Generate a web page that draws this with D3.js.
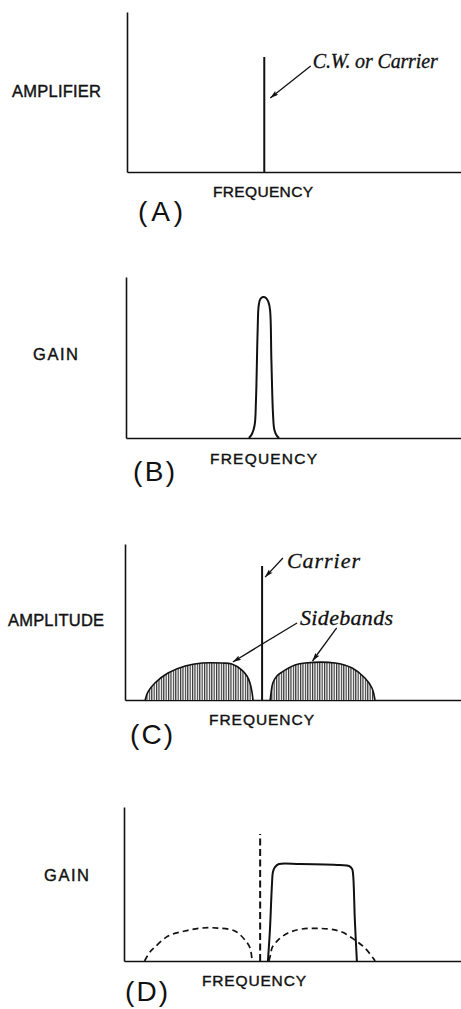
<!DOCTYPE html>
<html><head><meta charset="utf-8">
<script src="https://cdn.jsdelivr.net/npm/d3@7"></script>
<style>html,body{margin:0;padding:0;background:#fff;}svg{display:block;}</style>
</head><body>
<script>
// ---------------- data ----------------
const panelLetters = ["(A)", "(B)", "(C)", "(D)"];
const yAxisTitles = ["AMPLIFIER", "GAIN", "AMPLITUDE", "GAIN"];
const xAxisTitle = "FREQUENCY";
const freqDomain = [0, 100];
const levelDomain = [0, 100];

// (A) single continuous-wave carrier
const carrierA = [{f: 41.1, a: 71.9}];
// (B) narrow amplifier gain curve [frequency, gain]
const responseB = [[36.7,0],[37.6,2.5],[38.4,8.1],[38.8,23.6],[39.3,67.1],[39.6,82.0],[40.1,86.3],[40.9,87.6],[41.8,87.0],[42.5,84.5],[43.0,79.5],[43.4,48.4],[43.9,14.3],[44.3,5.0],[45.1,1.2],[45.7,0]];
// (C) carrier and sidebands
const carrierC = [{f: 40.8, a: 85.9}];
const lowerSidebandC = [[6.0,0],[6.8,5.1],[8.9,10.9],[12.8,17.3],[17.9,21.8],[22.9,23.7],[28.9,23.7],[31.8,23.1],[34.8,19.2],[36.3,15.4],[37.2,10.9],[37.8,5.1],[38.1,0]];
const upperSidebandC = [[43.2,0],[43.5,5.1],[44.0,10.9],[45.2,15.4],[46.7,17.9],[50.6,22.4],[53.6,23.7],[62.5,23.7],[67.6,20.5],[71.4,14.1],[73.5,7.7],[74.4,0]];
// (D) single-sideband filter gain, with suppressed carrier and sidebands dashed
const carrierD = [{f: 40.4, a: 82.5}];
const passbandD = [[42.7,0],[43.3,20.1],[43.9,49.4],[44.2,57.8],[44.8,61.0],[46.0,63.0],[52.2,63.0],[64.1,62.3],[66.8,61.7],[67.7,59.7],[68.0,55.8],[68.5,26.6],[69.1,0]];
const lowerSidebandD = [[6.1,0],[7.7,5.8],[9.2,9.1],[13.1,16.2],[18.1,19.5],[23.1,21.4],[27.9,21.4],[32.9,19.5],[35.9,13.6],[37.4,8.4],[38.0,0]];
const upperSidebandD = [[43.0,0],[43.6,5.2],[43.9,8.4],[45.7,13.6],[48.7,18.2],[52.8,20.8],[60.5,20.8],[64.7,18.8],[68.5,13.6],[71.5,8.4],[73.9,1.9],[74.5,0]];

// annotations: label, arrow start, arrow tip, text anchor (frequency, level)
const notesA = [{text: "C.W. or Carrier", from: [55.0, 66.3], to: [42.9, 46.3], at: [55.6, 65.0]}];
const notesC = [
  {text: "Carrier", from: [47.0, 91.0], to: [41.7, 78.8], at: [48.2, 84.6]},
  {text: "Sidebands", from: [51.2, 49.4], to: [32.1, 24.4], at: [52.1, 48.1]},
  {text: null, from: [63.0, 46.2], to: [55.8, 25.0]}
];

// ---------------- layout / style ----------------
const W = 461, H = 1009;
const layout = [
  {axisX:127, top:12,  base:172, yT:{x:12,y:97,w:89},  xT:{x:213,y:197,w:100}, L:{x:138,y:221,w:45}, noteSize:20, noteW:[125]},
  {axisX:126, top:277, base:438, yT:{x:33,y:360,w:45}, xT:{x:210,y:464,w:107}, L:{x:133,y:481,w:42}},
  {axisX:125, top:544, base:700, yT:{x:8,y:626,w:96},  xT:{x:209,y:725,w:105}, L:{x:130,y:744,w:43}, noteSize:22, noteW:[73,93]},
  {axisX:124, top:807, base:961, yT:{x:44,y:881,w:45}, xT:{x:202,y:986,w:104}, L:{x:125,y:1001,w:43}}
];
const ink = "#111";

const svg = d3.select("body").append("svg").attr("width", W).attr("height", H);
const defs = svg.append("defs");
defs.append("marker").attr("id","arrow").attr("viewBox","0 0 10 6")
  .attr("refX",10).attr("refY",3).attr("markerWidth",10).attr("markerHeight",5)
  .attr("markerUnits","userSpaceOnUse").attr("orient","auto")
  .append("path").attr("d","M0,0 L10,3 L0,6 L2,3 Z").attr("fill",ink);
const pat = defs.append("pattern").attr("id","hatch").attr("patternUnits","userSpaceOnUse")
  .attr("width",2.4).attr("height",10);
pat.append("rect").attr("width",2.4).attr("height",10).attr("fill","#fff");
pat.append("line").attr("x1",0.6).attr("x2",0.6).attr("y1",0).attr("y2",10)
  .attr("stroke","#222").attr("stroke-width",1.1);

const sans = "'Liberation Sans', Arial, sans-serif";
const serifI = "'Liberation Serif', 'DejaVu Serif', serif";

layout.forEach((L, i) => {
  const g = svg.append("g");
  const x = d3.scaleLinear().domain(freqDomain).range([L.axisX, W]);
  const y = d3.scaleLinear().domain(levelDomain).range([L.base, L.top]);
  L.x = x; L.y = y; L.g = g;

  g.append("g").attr("transform", `translate(${L.axisX},0)`)
    .call(d3.axisLeft(y).tickValues([]).tickSizeOuter(0))
    .call(s => s.select(".domain").attr("stroke", ink).attr("stroke-width", 1.6));
  g.append("g").attr("transform", `translate(0,${L.base})`)
    .call(d3.axisBottom(x).tickValues([]).tickSizeOuter(0))
    .call(s => s.select(".domain").attr("stroke", ink).attr("stroke-width", 1.6));

  g.append("text").text(yAxisTitles[i]).attr("x", L.yT.x).attr("y", L.yT.y)
    .attr("textLength", L.yT.w).attr("font-family", sans).attr("font-size", 16.5)
    .attr("fill", ink).attr("stroke", ink).attr("stroke-width", 0.4);
  g.append("text").text(xAxisTitle).attr("x", L.xT.x).attr("y", L.xT.y)
    .attr("textLength", L.xT.w).attr("font-family", sans).attr("font-size", 15.5)
    .attr("fill", ink).attr("stroke", ink).attr("stroke-width", 0.4);
  g.append("text").text(panelLetters[i]).attr("x", L.L.x).attr("y", L.L.y)
    .attr("textLength", L.L.w).attr("font-family", sans).attr("font-size", 28).attr("fill", ink);
});

const line = (L, curve) => d3.line().x(d => L.x(d[0])).y(d => L.y(d[1])).curve(curve || d3.curveCatmullRom.alpha(0.5));

function carrier(L, data, dash) {
  L.g.selectAll(null).data(data).enter().append("line")
    .attr("x1", d => L.x(d.f)).attr("x2", d => L.x(d.f))
    .attr("y1", L.y(0)).attr("y2", d => L.y(d.a))
    .attr("stroke", ink).attr("stroke-width", 2)
    .attr("stroke-dasharray", dash || null);
}
function notes(L, data) {
  L.g.selectAll(null).data(data).enter().append("line")
    .attr("x1", d => L.x(d.from[0])).attr("y1", d => L.y(d.from[1]))
    .attr("x2", d => L.x(d.to[0])).attr("y2", d => L.y(d.to[1]))
    .attr("stroke", ink).attr("stroke-width", 1.3).attr("marker-end", "url(#arrow)");
  L.g.selectAll(null).data(data.filter(d => d.text)).enter().append("text")
    .text(d => d.text).attr("x", d => L.x(d.at[0])).attr("y", d => L.y(d.at[1]))
    .attr("textLength", (d, k) => L.noteW[k])
    .attr("font-family", serifI).attr("font-style", "italic")
    .attr("font-size", L.noteSize).attr("fill", ink).attr("stroke", ink).attr("stroke-width", 0.3);
}

// (A)
carrier(layout[0], carrierA);
notes(layout[0], notesA);

// (B)
layout[1].g.append("path").datum(responseB).attr("d", line(layout[1]))
  .attr("fill", "none").attr("stroke", ink).attr("stroke-width", 2);

// (C)
[lowerSidebandC, upperSidebandC].forEach(sb => {
  layout[2].g.append("path").datum(sb).attr("d", line(layout[2]))
    .attr("fill", "url(#hatch)").attr("stroke", ink).attr("stroke-width", 1.6);
});
carrier(layout[2], carrierC);
notes(layout[2], notesC);

// (D)
[lowerSidebandD, upperSidebandD].forEach(sb => {
  layout[3].g.append("path").datum(sb).attr("d", line(layout[3]))
    .attr("fill", "none").attr("stroke", ink).attr("stroke-width", 1.7)
    .attr("stroke-dasharray", "6,4");
});
carrier(layout[3], carrierD, "7,3.5");
layout[3].g.append("path").datum(passbandD).attr("d", line(layout[3]))
  .attr("fill", "none").attr("stroke", ink).attr("stroke-width", 2);
</script>
</body></html>
